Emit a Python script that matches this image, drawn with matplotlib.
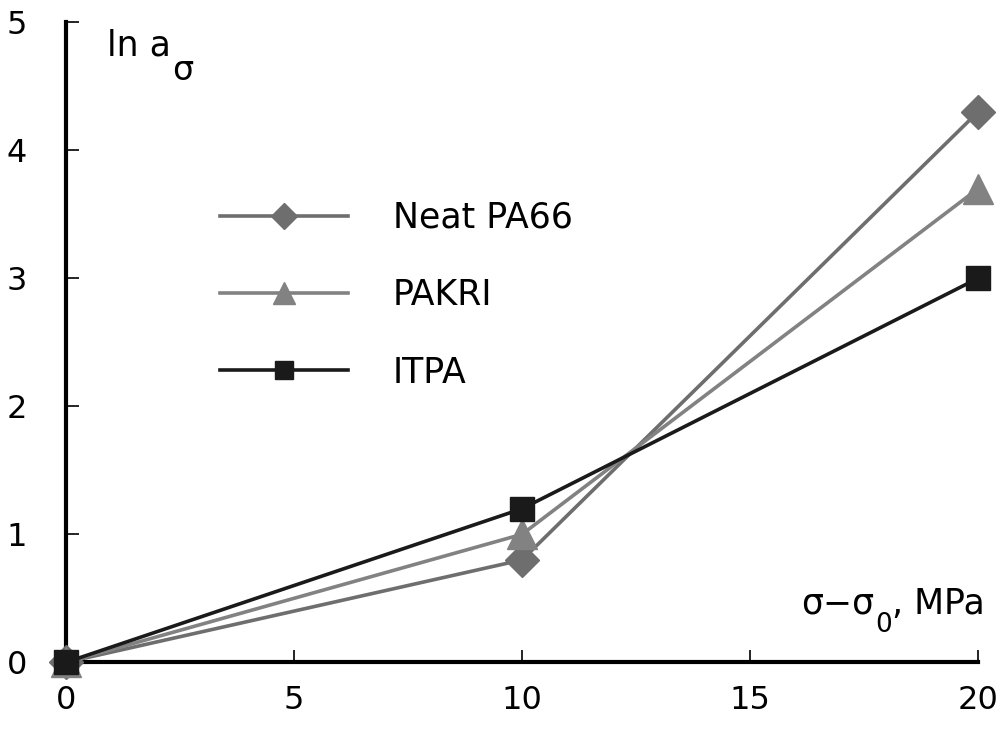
import matplotlib
matplotlib.use('Agg')
import matplotlib.pyplot as plt

plt.rcParams['font.family'] = ['DejaVu Sans']

x = [0, 10, 20]
neat_pa66 = [0, 0.8, 4.3]
pakri = [0, 1.0, 3.7]
itpa = [0, 1.2, 3.0]

labels = ['Neat PA66', 'PAKRI', 'ITPA']

fig = plt.figure(figsize=(10.01, 7.45), dpi=100)
ax = fig.add_axes([0.066, 0.111, 0.911, 0.859])

ax.plot(x, neat_pa66, color='#6e6e6e', lw=2.6, marker='D', ms=17, label=labels[0], clip_on=False, zorder=3)
ax.plot(x, pakri, color='#828282', lw=2.6, marker='^', ms=21, label=labels[1], clip_on=False, zorder=3)
ax.plot(x, itpa, color='#1a1a1a', lw=2.6, marker='s', ms=17, label=labels[2], clip_on=False, zorder=4)

ax.set_xlim(0, 20)
ax.set_ylim(0, 5)
ax.set_xticks([0, 5, 10, 15, 20])
ax.set_yticks([0, 1, 2, 3, 4, 5])

for s in ['top', 'right']:
    ax.spines[s].set_visible(False)
for s in ['left', 'bottom']:
    ax.spines[s].set_linewidth(3)

ax.tick_params(axis='x', direction='in', length=9, width=1.2, labelsize=23, pad=16)
ax.tick_params(axis='y', direction='in', length=9, width=1.2, labelsize=23, pad=28)

# y label: "ln a" with a large lowered sigma
t1 = ax.text(0.045, 0.99, 'ln a', transform=ax.transAxes, fontsize=25, va='top', ha='left')
ax.annotate('σ', xy=(1, 0), xycoords=t1, xytext=(1, 6), textcoords='offset points',
            fontsize=24, va='top', ha='left')

# x label: "σ−σ0, MPa" with a lowered 0
t2 = ax.text(0.806, 0.065, 'σ−σ', transform=ax.transAxes, fontsize=25, va='bottom', ha='left')
ax.annotate('0', xy=(1, 0), xycoords=t2, xytext=(0.5, 6), textcoords='offset points',
            fontsize=19, va='top', ha='left')
ax.annotate(', MPa', xy=(1, 0), xycoords=t2, xytext=(13, 0), textcoords='offset points',
            fontsize=25, va='bottom', ha='left')

leg = ax.legend(loc='upper left', bbox_to_anchor=(0.134, 0.77), frameon=False, fontsize=25,
                handlelength=3.7, handletextpad=1.3, labelspacing=1.25, markerscale=0.75)

fig.savefig('out.png', dpi=100)
